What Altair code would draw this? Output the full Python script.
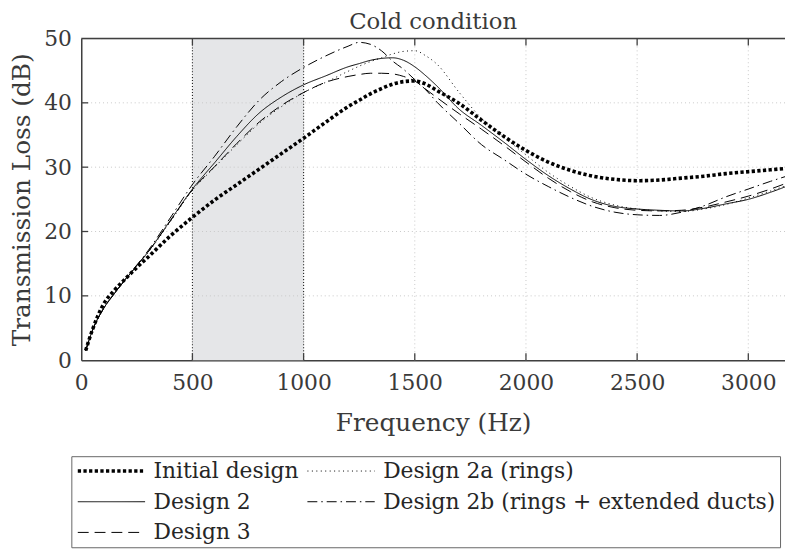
import altair as alt
import pandas as pd

# ---------------- data ----------------
freq = [20, 50, 100, 150, 200, 250, 300, 400, 500, 600, 700, 800, 900, 1000,
        1100, 1200, 1250, 1300, 1350, 1400, 1450, 1500, 1550, 1600, 1700, 1800,
        1900, 2000, 2100, 2200, 2300, 2400, 2500, 2600, 2700, 2800, 2900, 3000,
        3100, 3200]

initial = [1.5, 4.7, 8.7, 10.9, 12.7, 14.4, 16.0, 19.3, 22.2, 24.9, 27.3, 29.7,
           32.1, 34.5, 37.0, 39.4, 40.4, 41.4, 42.2, 42.9, 43.3, 43.4, 42.9, 41.9,
           39.9, 37.3, 34.8, 32.6, 30.8, 29.5, 28.6, 28.1, 27.9, 28.0, 28.3, 28.6,
           29.0, 29.3, 29.6, 29.9]

design2 = [1.5, 4.6, 8.0, 10.4, 12.6, 14.7, 16.8, 21.7, 26.6, 30.7, 34.8, 38.4,
           40.9, 42.8, 44.2, 45.6, 46.1, 46.6, 46.9, 47.0, 46.6, 45.6, 44.2, 42.6,
           39.0, 36.5, 33.9, 31.2, 28.7, 26.6, 24.9, 23.9, 23.5, 23.3, 23.2, 23.6,
           24.3, 25.0, 26.1, 27.4]

design3 = [1.5, 4.6, 8.0, 10.4, 12.6, 14.7, 16.8, 21.6, 26.5, 30.1, 33.7, 37.0,
           39.6, 41.6, 43.2, 44.1, 44.4, 44.6, 44.6, 44.5, 44.1, 43.4, 42.1, 40.8,
           38.3, 35.9, 33.4, 30.8, 28.3, 26.2, 24.6, 23.7, 23.3, 23.2, 23.3, 23.8,
           24.6, 25.5, 26.6, 27.9]

design2a = [1.5, 4.6, 8.0, 10.4, 12.6, 14.7, 16.7, 21.5, 26.4, 30.0, 33.5, 36.8,
            39.4, 41.6, 43.2, 44.9, 45.7, 46.4, 47.0, 47.6, 48.0, 48.1, 47.3, 46.0,
            41.6, 37.6, 34.7, 31.9, 29.2, 27.0, 25.2, 24.1, 23.5, 23.2, 23.1, 23.5,
            24.2, 25.2, 26.3, 27.5]

design2b = [1.5, 4.6, 8.0, 10.4, 12.7, 14.8, 17.0, 22.1, 27.3, 31.7, 36.3, 40.4,
            43.3, 45.5, 47.3, 48.8, 49.4, 49.1, 48.1, 46.5, 45.2, 43.6, 42.0, 40.1,
            36.8, 33.5, 31.2, 28.9, 27.0, 25.3, 23.9, 23.0, 22.6, 22.5, 23.0, 24.0,
            25.4, 26.6, 27.8, 28.9]

# legend order (column-major in a 2-column legend)
series_names = ["Initial design", "Design 2", "Design 3",
                "Design 2a (rings)", "Design 2b (rings + extended ducts)"]
series_values = [initial, design2, design3, design2a, design2b]

x_ticks = [0, 500, 1000, 1500, 2000, 2500, 3000]
y_ticks = [0, 10, 20, 30, 40, 50]
x_domain = [0, 3165]
y_domain = [0, 50]
band = {"start": [500], "end": [1000]}

# ---------------- styling ----------------
W, H = 711, 325
FONT = "DejaVu Serif"
TXT = "#3a3a3a"
AX = "#404040"

dash_map = {
    "Initial design": [3.3, 2.4],
    "Design 2a (rings)": [1, 3.5],
    "Design 2": [1, 0],
    "Design 2b (rings + extended ducts)": [10, 4, 1.5, 4],
    "Design 3": [11, 6],
}
width_map = {
    "Initial design": 3.6,
    "Design 2a (rings)": 1.0,
    "Design 2": 1.0,
    "Design 2b (rings + extended ducts)": 1.0,
    "Design 3": 1.0,
}

rows = []
for name, vals in zip(series_names, series_values):
    for f, v in zip(freq, vals):
        rows.append({"f": f, "tl": v, "series": name})
df = pd.DataFrame(rows)

xscale = alt.Scale(domain=x_domain, nice=False, zero=False)
yscale = alt.Scale(domain=y_domain, nice=False)
xaxis = alt.Axis(values=x_ticks, format="d", title="Frequency (Hz)", grid=False,
                 ticks=False, domain=True, domainColor=AX, domainWidth=1.5,
                 labelFont=FONT, labelFontSize=22, labelColor=TXT, labelPadding=13,
                 titleFont=FONT, titleFontSize=25, titleColor=TXT,
                 titleFontWeight="normal", titlePadding=17, labelFlush=False)
yaxis = alt.Axis(values=y_ticks, title="Transmission Loss (dB)", grid=False,
                 ticks=False, domain=True, domainColor=AX, domainWidth=1.5,
                 labelFont=FONT, labelFontSize=22, labelColor=TXT, labelPadding=10,
                 titleFont=FONT, titleFontSize=25, titleColor=TXT,
                 titleFontWeight="normal", titlePadding=9, labelFlush=False)


def X(field):
    return alt.X(field, type="quantitative", scale=xscale, axis=xaxis)


def Y(field):
    return alt.Y(field, type="quantitative", scale=yscale, axis=yaxis)


band_df = pd.DataFrame(band)
xt_df = pd.DataFrame({"v": x_ticks[1:]})
yt_df = pd.DataFrame({"v": y_ticks[1:-1]})
top_df = pd.DataFrame({"v": [y_domain[1]]})
edge_df = pd.DataFrame({"v": band["start"] + band["end"]})

band_layer = alt.Chart(band_df).mark_rect(color="#e5e6e8").encode(
    x=X("start"), x2="end")

xgrid = alt.Chart(xt_df).mark_rule(color="#c8c8c8", strokeDash=[1, 3],
                                   strokeWidth=1).encode(x=X("v"))
ygrid = alt.Chart(yt_df).mark_rule(color="#c8c8c8", strokeDash=[1, 3],
                                   strokeWidth=1).encode(y=Y("v"))

edges = alt.Chart(edge_df).mark_rule(color="#222222", strokeDash=[1, 2],
                                     strokeWidth=1.1).encode(x=X("v"))

legend = alt.Legend(title=None, orient="none", legendX=-10, legendY=422,
                    direction="vertical", columns=2, columnPadding=6, rowPadding=9,
                    symbolType="M-1,0H7", symbolSize=289,
                    symbolStrokeColor="black",
                    labelFont=FONT, labelFontSize=22, labelColor="#262626",
                    labelOffset=57, padding=4, strokeColor="#666666",
                    fillColor="white", labelLimit=700)

lines = alt.Chart(df).mark_line(color="black", clip=True,
                                interpolate="monotone").encode(
    x=X("f"), y=Y("tl"),
    strokeDash=alt.StrokeDash("series:N",
                              scale=alt.Scale(domain=series_names,
                                              range=[dash_map[s] for s in series_names]),
                              legend=legend),
    strokeWidth=alt.StrokeWidth("series:N",
                                scale=alt.Scale(type="ordinal", domain=series_names,
                                                range=[width_map[s] for s in series_names]),
                                legend=legend),
    detail="series:N",
)

top_line = alt.Chart(top_df).mark_rule(color=AX, strokeWidth=1.5).encode(y=Y("v"))

tick_bottom = alt.Chart(xt_df).mark_rule(color=AX, strokeWidth=1.3).encode(
    x=X("v"), y=alt.value(H), y2=alt.value(H - 7))
tick_top = alt.Chart(xt_df).mark_rule(color=AX, strokeWidth=1.3).encode(
    x=X("v"), y=alt.value(0), y2=alt.value(7))
tick_left = alt.Chart(yt_df).mark_rule(color=AX, strokeWidth=1.3).encode(
    y=Y("v"), x=alt.value(0), x2=alt.value(7))

chart = alt.layer(
    band_layer, xgrid, ygrid, edges, lines, top_line, tick_bottom, tick_top, tick_left
).properties(
    width=W, height=H,
    title=alt.TitleParams("Cold condition", font=FONT, fontSize=23, color=TXT,
                          fontWeight="normal", offset=-6, anchor="middle"),
    autosize=alt.AutoSizeParams(type="none"),
    padding={"left": 74, "top": 28, "right": 0, "bottom": 193},
).configure_view(stroke=None).configure(background="white")

chart.save("out.html", embed_options={"renderer": "svg", "actions": False})
